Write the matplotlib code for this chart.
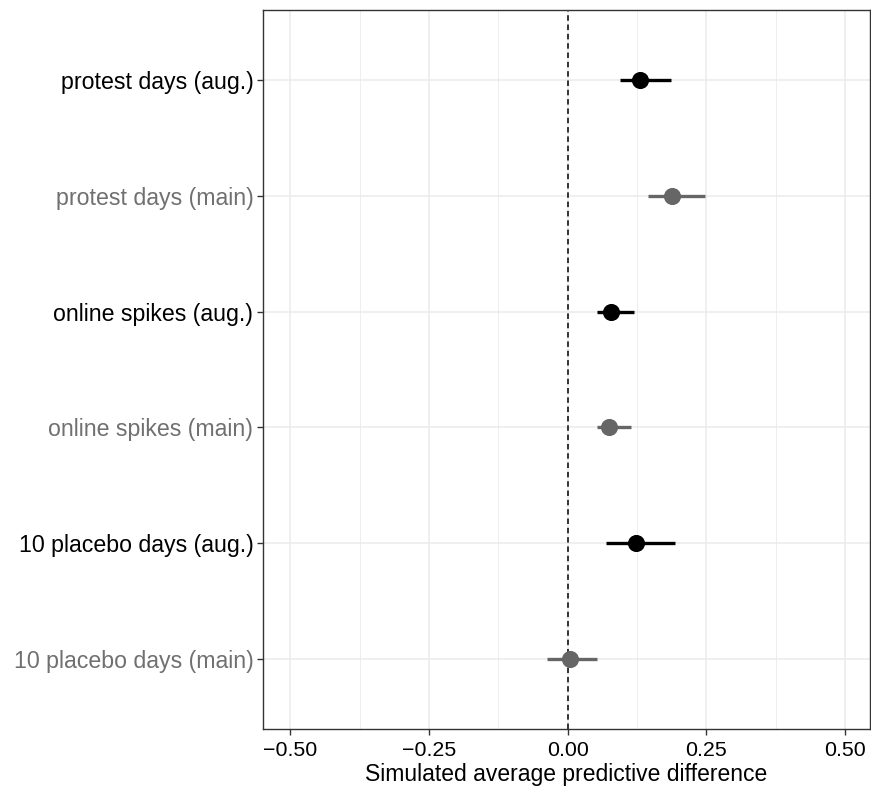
import matplotlib
matplotlib.use("Agg")
import matplotlib.pyplot as plt
import numpy as np

plt.rcParams["font.family"] = ["Liberation Sans", "DejaVu Sans"]

# estimates and 95% intervals, top to bottom
labels = ["protest days (aug.)", "protest days (main)",
          "online spikes (aug.)", "online spikes (main)",
          "10 placebo days (aug.)", "10 placebo days (main)"]
estimate = [0.130, 0.189, 0.079, 0.074, 0.1225, 0.005]
lower = [0.094, 0.144, 0.053, 0.053, 0.070, -0.038]
upper = [0.187, 0.248, 0.120, 0.115, 0.193, 0.053]
model = ["aug", "main", "aug", "main", "aug", "main"]

xticks = [-0.50, -0.25, 0.00, 0.25, 0.50]
xticklabels = ["\u22120.50", "\u22120.25", "0.00", "0.25", "0.50"]

colors = {"aug": "black", "main": "#666666"}

fig = plt.figure(figsize=(8.71, 7.90), dpi=100)
ax = fig.add_axes([263/871, 1 - 729/790, (870 - 263)/871, (729 - 10)/790])

n = len(labels)
ypos = np.arange(n)[::-1] + 1

for y, est, lo, hi, m in zip(ypos, estimate, lower, upper, model):
    c = colors[m]
    ax.plot([lo, hi], [y, y], color=c, lw=2.4, solid_capstyle="butt", zorder=3)
    ax.plot(est, y, "o", color=c, ms=11.3, zorder=4)

ax.axvline(0, color="black", ls=(0, (3.6, 2.5)), lw=1.1, zorder=2)

ax.set_xlim(-0.549, 0.545)
ax.set_ylim(0.4, n + 0.6)
ax.set_xticks(xticks)
ax.set_xticklabels(xticklabels)
ax.set_xticks([-0.375, -0.125, 0.125, 0.375], minor=True)
ax.set_yticks(ypos)
ax.set_yticklabels(labels)
for t, m in zip(ax.get_yticklabels(), model):
    t.set_color("black" if m == "aug" else "#707070")

ax.grid(True, which="major", color="#EBEBEB", lw=1.1, zorder=0)
ax.grid(True, which="minor", axis="x", color="#EBEBEB", lw=0.6, zorder=0)
ax.set_axisbelow(True)

ax.tick_params(axis="both", which="major", length=4, width=1, color="#333333", pad=3)
ax.tick_params(axis="y", labelsize=16.7)
ax.tick_params(axis="x", labelsize=15.4, pad=4.5)
ax.tick_params(axis="x", which="minor", length=0)
for s in ax.spines.values():
    s.set_color("#333333")
    s.set_linewidth(1)

ax.set_xlabel("Simulated average predictive difference", fontsize=16.5, labelpad=2.5)

fig.savefig("out.png", dpi=100)
